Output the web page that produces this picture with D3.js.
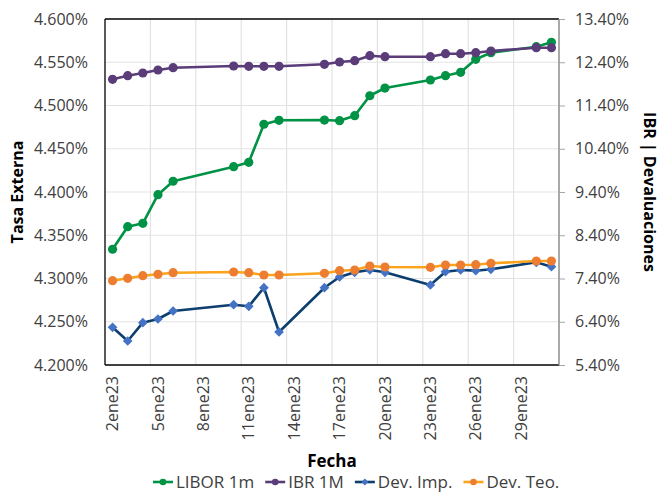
<!DOCTYPE html>
<html>
<head>
<meta charset="utf-8">
<script src="https://cdn.jsdelivr.net/npm/d3@7"></script>
<style>
  html, body { margin: 0; padding: 0; background: #fff; }
  text { font-family: "Open Sans", "Noto Sans", sans-serif; }
</style>
</head>
<body>
<svg id="chart" width="661" height="493"></svg>
<script>
const dates = ["2023-01-02","2023-01-03","2023-01-04","2023-01-05","2023-01-06",
  "2023-01-10","2023-01-11","2023-01-12","2023-01-13",
  "2023-01-16","2023-01-17","2023-01-18","2023-01-19","2023-01-20",
  "2023-01-23","2023-01-24","2023-01-25","2023-01-26","2023-01-27",
  "2023-01-30","2023-01-31"];
const libor = [4.3338, 4.3599, 4.3638, 4.3969, 4.4124, 4.4293, 4.4343, 4.4783, 4.4829,
  4.4832, 4.4824, 4.4882, 4.5113, 4.5202, 4.5295, 4.5345, 4.5384, 4.5534, 4.5610, 4.5680, 4.5731];
const ibr = [12.006, 12.089, 12.151, 12.221, 12.274, 12.313, 12.306, 12.306, 12.306,
  12.353, 12.406, 12.436, 12.551, 12.528, 12.528, 12.598, 12.598, 12.621, 12.660, 12.736, 12.736];
const devImp = [6.272, 5.955, 6.378, 6.464, 6.649, 6.794, 6.757, 7.187, 6.163,
  7.187, 7.435, 7.543, 7.597, 7.543, 7.250, 7.557, 7.597, 7.581, 7.613, 7.775, 7.673];
const devTeo = [7.349, 7.405, 7.465, 7.497, 7.534, 7.550, 7.534, 7.481, 7.481,
  7.520, 7.580, 7.597, 7.689, 7.666, 7.659, 7.712, 7.712, 7.719, 7.751, 7.805, 7.805];
const leftTicks = [4.20, 4.25, 4.30, 4.35, 4.40, 4.45, 4.50, 4.55, 4.60];
const rightTicks = [5.4, 6.4, 7.4, 8.4, 9.4, 10.4, 11.4, 12.4, 13.4];
const xTickDays = [2, 5, 8, 11, 14, 17, 20, 23, 26, 29];
const seriesNames = ["LIBOR 1m", "IBR 1M", "Dev. Imp.", "Dev. Teo."];

const svg = d3.select("#chart");
const L = 105, R = 559, T = 19, B = 365;
const parse = d3.utcParse("%Y-%m-%d");
const dayDate = d => new Date(Date.UTC(2023, 0, d));
const x = d3.scaleUtc()
  .domain([new Date(Date.UTC(2023, 0, 1, 12)), new Date(Date.UTC(2023, 0, 31, 12))])
  .range([L, R]);
const yL = d3.scaleLinear().domain([4.20, 4.60]).range([B, T]);
const yR = d3.scaleLinear().domain([5.4, 13.4]).range([B, T]);

const grid = "#e3e3e3";
svg.append("g").selectAll("line").data(leftTicks.slice(1, -1)).join("line")
  .attr("x1", L).attr("x2", R)
  .attr("y1", d => yL(d)).attr("y2", d => yL(d))
  .attr("stroke", grid).attr("stroke-width", 1.2);
const vDays = d3.range(4, 29, 3);
svg.append("g").selectAll("line").data(vDays).join("line")
  .attr("x1", d => x(new Date(Date.UTC(2023, 0, d, 12)))).attr("x2", d => x(new Date(Date.UTC(2023, 0, d, 12))))
  .attr("y1", T).attr("y2", B)
  .attr("stroke", grid).attr("stroke-width", 1.2);

svg.append("line").attr("x1", L).attr("x2", R).attr("y1", T).attr("y2", T)
  .attr("stroke", "#404040").attr("stroke-width", 1.8);
svg.append("line").attr("x1", L).attr("x2", L).attr("y1", T).attr("y2", B)
  .attr("stroke", "#000").attr("stroke-width", 1.3);
svg.append("line").attr("x1", L).attr("x2", R).attr("y1", B).attr("y2", B)
  .attr("stroke", "#000").attr("stroke-width", 1.3);

const axL = svg.append("g").attr("transform", `translate(${L},0)`)
  .call(d3.axisLeft(yL).tickValues(leftTicks).tickSize(0).tickPadding(17)
    .tickFormat(d => d3.format(".3f")(d) + "%"));
axL.select(".domain").remove();
axL.selectAll("text").attr("font-size", 16).attr("fill", "#404040")
  .style("font-family", '"Open Sans", sans-serif');

const axR = svg.append("g").attr("transform", `translate(${R},0)`)
  .call(d3.axisRight(yR).tickValues(rightTicks).tickSize(6).tickPadding(10)
    .tickFormat(d => d3.format(".2f")(d) + "%"));
axR.select(".domain").attr("stroke", "#8c8c8c").attr("stroke-width", 1.5).attr("d", `M0,${T}V${B}`);
axR.selectAll("line").attr("stroke", "#a6a6a6");
axR.selectAll("text").attr("font-size", 16).attr("fill", "#404040")
  .style("font-family", '"Open Sans", sans-serif');

svg.append("g").selectAll("text").data(xTickDays).join("text")
  .attr("transform", d => `translate(${x(dayDate(d))},376) rotate(-90)`)
  .attr("text-anchor", "end").attr("dy", "0.35em")
  .attr("font-size", 16).attr("fill", "#404040")
  .text(d => d + "ene23");

svg.append("text").attr("transform", `translate(23,${(T + B) / 2}) rotate(-90)`)
  .attr("text-anchor", "middle").attr("font-size", 16).attr("font-weight", "bold").attr("fill", "#000")
  .text("Tasa Externa");
svg.append("text").attr("transform", `translate(644,${(T + B) / 2}) rotate(90)`)
  .attr("text-anchor", "middle").attr("font-size", 16).attr("font-weight", "bold").attr("fill", "#000")
  .text("IBR | Devaluaciones");
svg.append("text").attr("x", (L + R) / 2).attr("y", 467)
  .attr("text-anchor", "middle").attr("font-size", 17).attr("font-weight", "bold").attr("fill", "#000")
  .text("Fecha");

const ds = dates.map(parse);
const series = [
  { name: seriesNames[0], vals: libor, y: yL, line: "#009245", mark: "#009245", shape: "circle" },
  { name: seriesNames[1], vals: ibr, y: yR, line: "#5a3c78", mark: "#5a3c78", shape: "circle" },
  { name: seriesNames[2], vals: devImp, y: yR, line: "#0d3f6e", mark: "#4472c4", shape: "diamond" },
  { name: seriesNames[3], vals: devTeo, y: yR, line: "#fba31a", mark: "#ed7d31", shape: "circle" }
];
series.forEach(s => {
  const pts = s.vals.map((v, i) => [x(ds[i]), s.y(v)]);
  svg.append("path").attr("d", d3.line()(pts))
    .attr("fill", "none").attr("stroke", s.line).attr("stroke-width", 2.6).attr("stroke-linejoin", "round");
  if (s.shape === "circle") {
    svg.append("g").selectAll("circle").data(pts).join("circle")
      .attr("cx", d => d[0]).attr("cy", d => d[1]).attr("r", 4.6).attr("fill", s.mark);
  } else {
    const sym = d3.symbol().type(d3.symbolDiamond2).size(60);
    svg.append("g").selectAll("path").data(pts).join("path")
      .attr("transform", d => `translate(${d[0]},${d[1]})`).attr("d", sym()).attr("fill", s.mark);
  }
});

let lx = 153;
const ly = 482;
series.forEach(s => {
  const g = svg.append("g");
  g.append("line").attr("x1", lx).attr("x2", lx + 20).attr("y1", ly).attr("y2", ly)
    .attr("stroke", s.line).attr("stroke-width", 2.6);
  if (s.shape === "circle") {
    g.append("circle").attr("cx", lx + 10).attr("cy", ly).attr("r", 3.3).attr("fill", s.mark);
  } else {
    g.append("path").attr("transform", `translate(${lx + 10},${ly})`)
      .attr("d", d3.symbol().type(d3.symbolDiamond2).size(30)()).attr("fill", s.mark);
  }
  const t = g.append("text").attr("x", lx + 23).attr("y", ly).attr("dy", "0.36em")
    .attr("font-size", 17).attr("fill", "#404040").text(s.name);
  lx = lx + 23 + t.node().getComputedTextLength() + 11;
});
</script>
</body>
</html>
